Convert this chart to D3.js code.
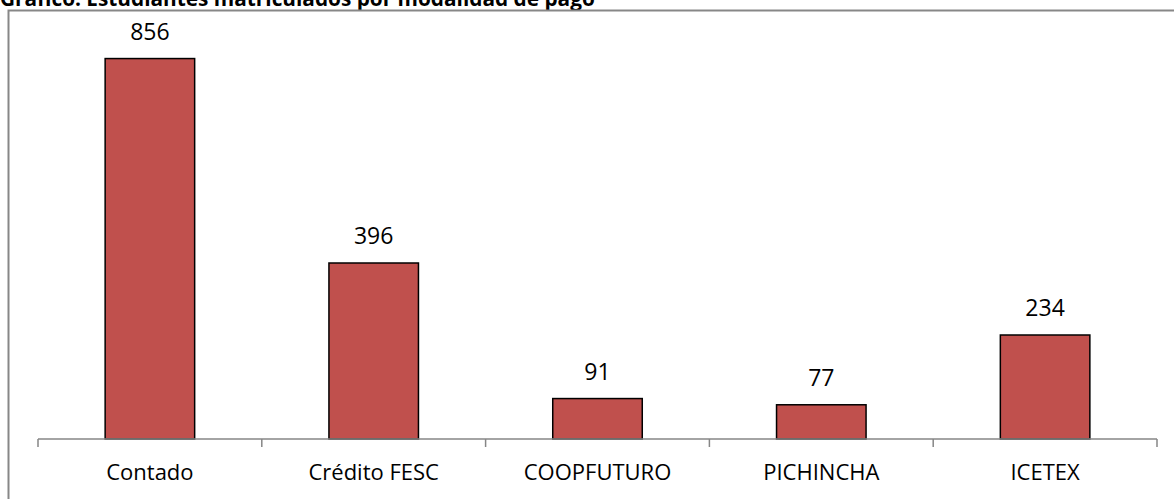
<!DOCTYPE html>
<html lang="es">
<head>
  <meta charset="UTF-8">
  <title>Estudiantes matriculados por modalidad de pago</title>
  <style>
    *{ margin:0; padding:0; }
    body{ background:#fff; }
  </style>
  <script src="https://cdn.jsdelivr.net/npm/d3@7"></script>
</head>
<body>
  <svg id="mainsvg" style="display:block"></svg>
  <script>
    // datos
    const categorias = ['Contado', 'Crédito FESC', 'COOPFUTURO', 'PICHINCHA', 'ICETEX']
    const valores = [856, 396, 91, 77, 234]
    const titulo = 'Gráfico. Estudiantes matriculados por modalidad de pago'

    const width = 1174, height = 499
    const svg = d3.select('#mainsvg').attr('width', width).attr('height', height)
    const font = '"Open Sans", "Noto Sans", sans-serif'

    // titulo (cortado arriba como en la imagen)
    svg.append('text')
      .attr('x', 0).attr('y', 6)
      .attr('font-family', font).attr('font-weight', 'bold').attr('font-size', 20.8)
      .attr('fill', '#000')
      .text(titulo)

    // marco del grafico
    svg.append('rect')
      .attr('x', 8.5).attr('y', 10.5)
      .attr('width', 1180).attr('height', 520)
      .attr('fill', 'none').attr('stroke', '#878787').attr('stroke-width', 2)

    const plot = { left: 38, right: 1157, top: 39, bottom: 439 }

    const x = d3.scaleBand().domain(categorias).range([plot.left, plot.right]).padding(0)
    const y = d3.scaleLinear().domain([0, 900]).range([plot.bottom, plot.top])
    const barW = x.bandwidth() * 0.4

    const g = svg.append('g')

    // barras
    g.selectAll('rect.bar').data(categorias).join('rect')
      .attr('class', 'bar')
      .attr('x', (d) => x(d) + (x.bandwidth() - barW) / 2)
      .attr('y', (d, i) => y(valores[i]))
      .attr('width', barW)
      .attr('height', (d, i) => y(0) - y(valores[i]))
      .attr('fill', '#C0504D')
      .attr('stroke', '#000').attr('stroke-width', 1.5)

    // eje x
    g.append('line')
      .attr('x1', plot.left).attr('x2', plot.right)
      .attr('y1', y(0)).attr('y2', y(0))
      .attr('stroke', '#868686').attr('stroke-width', 1.5)

    const bordes = categorias.map(d => x(d)).concat([plot.right])
    g.selectAll('line.tick').data(bordes).join('line')
      .attr('class', 'tick')
      .attr('x1', d => d).attr('x2', d => d)
      .attr('y1', y(0)).attr('y2', y(0) + 8)
      .attr('stroke', '#868686').attr('stroke-width', 1.5)

    // etiquetas de categoria
    g.selectAll('text.cat').data(categorias).join('text')
      .attr('class', 'cat')
      .attr('x', d => x(d) + x.bandwidth() / 2)
      .attr('y', 480)
      .attr('text-anchor', 'middle')
      .attr('font-family', font).attr('font-size', 22)
      .attr('fill', '#000')
      .text(d => d)

    // etiquetas de valor
    g.selectAll('text.val').data(valores).join('text')
      .attr('class', 'val')
      .attr('x', (d, i) => x(categorias[i]) + x.bandwidth() / 2)
      .attr('y', d => y(d) - 19)
      .attr('text-anchor', 'middle')
      .attr('font-family', font).attr('font-size', 23)
      .attr('fill', '#000')
      .text(d => d)
  </script>
</body>
</html>
